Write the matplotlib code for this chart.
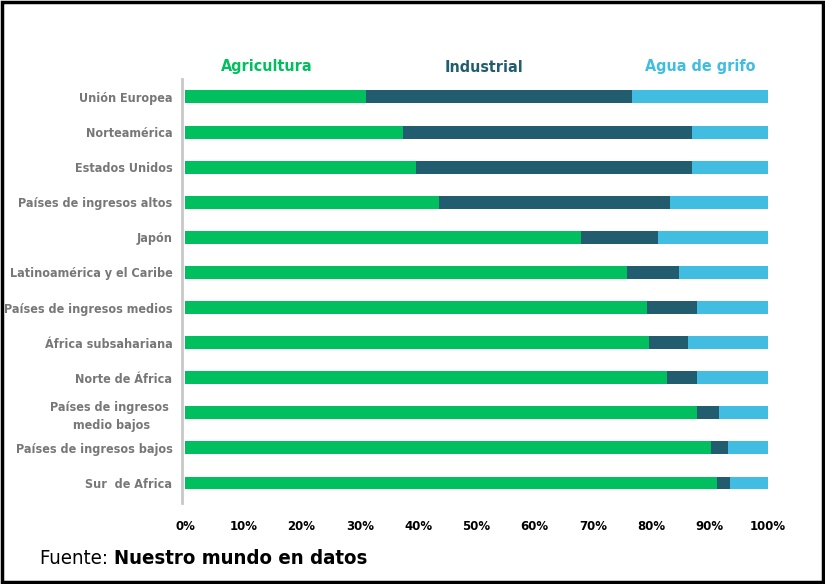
import matplotlib.pyplot as plt
import matplotlib.patches as patches
import numpy as np

regiones = ['Unión Europea', 'Norteamérica', 'Estados Unidos', 'Países de ingresos altos',
            'Japón', 'Latinoamérica y el Caribe', 'Países de ingresos medios',
            'África subsahariana', 'Norte de África', 'Países de ingresos \nmedio bajos',
            'Países de ingresos bajos', 'Sur  de Africa']
agricultura = [31.0, 37.4, 39.6, 43.6, 68.0, 75.8, 79.2, 79.6, 82.7, 87.9, 90.2, 91.3]
industrial = [45.7, 49.5, 47.3, 39.6, 13.1, 9.0, 8.7, 6.7, 5.2, 3.7, 2.9, 2.2]
agua_grifo = [100 - a - i for a, i in zip(agricultura, industrial)]
ticks = np.arange(0, 101, 10)

verde = '#00bf5f'
oscuro = '#215d6e'
celeste = '#40bde0'
fam = ['DejaVu Sans']

fig = plt.figure(figsize=(8.25, 5.84), dpi=100)
ax = fig.add_axes([0.2242, 0.1387, 0.7067, 0.726])

y = np.arange(len(regiones))
h = 0.37
ax.barh(y, agricultura, height=h, color=verde)
ax.barh(y, industrial, height=h, left=agricultura, color=oscuro)
izq = [a + i for a, i in zip(agricultura, industrial)]
ax.barh(y, agua_grifo, height=h, left=izq, color=celeste)

# spines primero: set_position reinicia los ticks
for s in ['top', 'right', 'bottom']:
    ax.spines[s].set_visible(False)
ax.spines['left'].set_color('#c8c8c8')
ax.spines['left'].set_linewidth(2)
ax.spines['left'].set_position(('outward', 2))

ax.set_ylim(11.57, -0.51)
ax.set_xlim(0, 100)
ax.set_yticks(y)
ax.set_yticklabels(regiones, family=fam, stretch='condensed', fontweight='bold',
                   fontsize=9, color='#777777', multialignment='center', linespacing=1.5)
ax.set_xticks(ticks)
ax.set_xticklabels([f'{t}%' for t in ticks], fontweight='bold', fontsize=8.5, color='black')
ax.tick_params(axis='y', length=0, pad=7)
ax.tick_params(axis='x', length=0, pad=12)

# leyenda como texto
for xc, txt, col in [(267, 'Agricultura', verde), (484, 'Industrial', oscuro),
                     (700, 'Agua de grifo', celeste)]:
    fig.text(xc / 825, 1 - 67 / 584, txt, color=col, family=fam, stretch='condensed',
             fontweight='bold', fontsize=11.5, ha='center', va='center')

t = fig.text(40 / 825, 1 - 558 / 584, 'Fuente: ', family=fam, stretch='condensed',
             fontsize=14.6, ha='left', va='center')
fig.canvas.draw()
bb = t.get_window_extent()
fig.text(bb.x1 / fig.bbox.width, 1 - 558 / 584, 'Nuestro mundo en datos', family=fam,
         stretch='condensed', fontsize=14.6, fontweight='bold', ha='left', va='center')

fig.patches.append(patches.Rectangle((0.002, 0.003), 0.996, 0.994, transform=fig.transFigure,
                                     fill=False, edgecolor='black', linewidth=2.5))

fig.savefig('out.png', dpi=100)
